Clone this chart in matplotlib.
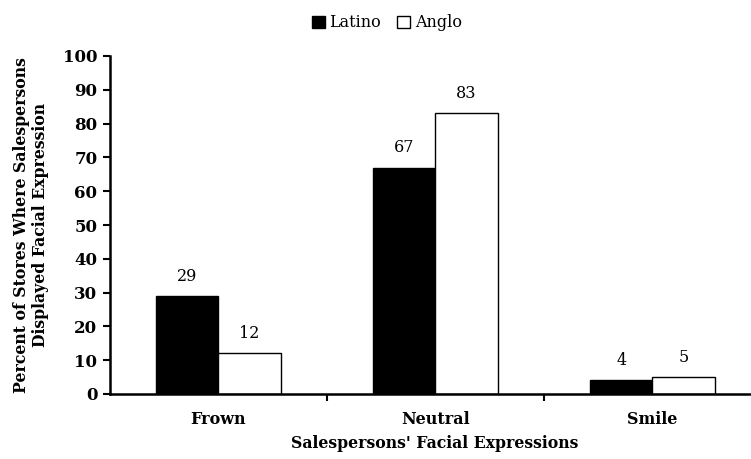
import matplotlib
matplotlib.use("Agg")
import matplotlib.pyplot as plt
import numpy as np
from matplotlib.patches import Patch

categories = ["Frown", "Neutral", "Smile"]
latino = [29, 67, 4]
anglo = [12, 83, 5]
series_names = ["Latino", "Anglo"]
yticks = list(range(0, 101, 10))

plt.rcParams['font.family'] = ['DejaVu Serif']

fig = plt.figure(figsize=(7.51, 4.59), dpi=100)
ax = fig.add_axes([110/751, 65/459, 1 - 110/751, (394-56)/459])

x = np.arange(1, len(categories) + 1)
w = 0.286
b1 = ax.bar(x - w/2, latino, w, color='black', edgecolor='black', linewidth=1, label=series_names[0])
b2 = ax.bar(x + w/2, anglo, w, color='white', edgecolor='black', linewidth=1, label=series_names[1])

for rects, vals in ((b1, latino), (b2, anglo)):
    for r, v in zip(rects, vals):
        ax.text(r.get_x() + r.get_width()/2, v + 3.3, str(v), ha='center', va='bottom', fontsize=11.5)

ax.set_xlim(0.5, 0.5 + (751 - 110) / 217)
ax.set_ylim(0, 100)
ax.set_yticks(yticks)
ax.set_yticklabels([str(t) for t in yticks], fontweight='bold', fontsize=12)
ax.set_xticks(x)
ax.set_xticklabels(categories, fontweight='bold', fontsize=11.5)
ax.tick_params(axis='x', length=0, pad=12)
ax.set_xticks([1.5, 2.5], minor=True)
ax.tick_params(axis='x', which='minor', length=5, width=1.5, direction='out')
ax.tick_params(axis='y', length=5, width=1.5, direction='out', pad=4)

for s in ['top', 'right']:
    ax.spines[s].set_visible(False)
ax.spines['left'].set_linewidth(1.8)
ax.spines['bottom'].set_linewidth(1.8)

ax.set_xlabel("Salespersons' Facial Expressions", fontweight='bold', fontsize=11.3, labelpad=3)
ax.xaxis.set_label_coords((435 - 110) / (751 - 110), -0.12)
ax.set_ylabel("Percent of Stores Where Salespersons\nDisplayed Facial Expression", fontweight='bold', fontsize=11.3, labelpad=10)

handles = [Patch(facecolor='black', edgecolor='black'), Patch(facecolor='white', edgecolor='black')]
fig.legend(handles, series_names, loc='upper center', bbox_to_anchor=(0.515, 1.0), ncol=2, frameon=False,
           fontsize=11.5, handlelength=0.8, handleheight=0.8, handletextpad=0.3, columnspacing=1.0)

fig.savefig("out.png", dpi=100)
